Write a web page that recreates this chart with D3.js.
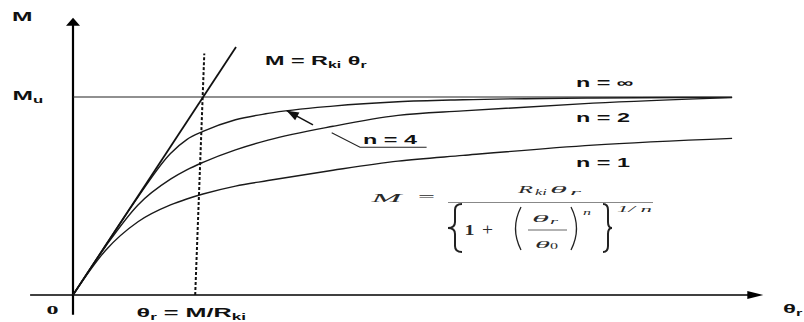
<!DOCTYPE html>
<html>
<head>
<meta charset="utf-8">
<script src="https://cdn.jsdelivr.net/npm/d3@7"></script>
<style>
  html, body { margin: 0; padding: 0; background: #fff; }
  svg { display: block; }
</style>
</head>
<body>
<div id="chart"></div>
<script>
// canvas
const width = 804,
  height = 322

// curve data (theta in units of theta0, M in units of Mu)
const theta = [0, 0.25, 0.5, 0.75, 0.875, 1, 1.25, 1.5, 2, 2.5, 3, 4, 5.07]
const mN4 = [0, 0.25, 0.495, 0.715, 0.785, 0.826, 0.885, 0.917, 0.954, 0.976, 0.986, 0.995, 0.998]
const mN2 = [0, 0.245, 0.455, 0.585, 0.632, 0.67, 0.733, 0.782, 0.852, 0.907, 0.93, 0.969, 0.997]
const mN1 = [0, 0.225, 0.37, 0.455, 0.485, 0.51, 0.55, 0.578, 0.63, 0.676, 0.705, 0.757, 0.791]

// straight elastic line M = Rki * theta
const elasticTheta = [0, 1.254]
const elasticM = [0, 1.253]
// ultimate moment line
const muTheta = [0, 5.07]
const muM = [1, 1]
// dashed line theta_r = M / Rki
const dashTheta = [0.94, 1.01]
const dashM = [0, 1.22]
// leader for the n = 4 label
const leaderTheta = [2.72, 2.208, 1.99]
const leaderM = [0.746, 0.746, 0.82]
const pointerTheta = [1.846, 1.644]
const pointerM = [0.859, 0.931]

// axis extents
const xAxisRange = [-0.33, 5.31]
const yAxisRange = [-0.1, 1.4]

let svg = d3.select('#chart')
  .append('svg')
  .attr('width', width)
  .attr('height', height)

const x = d3.scaleLinear().domain([0, 1]).range([73, 203])
const y = d3.scaleLinear().domain([0, 1]).range([295, 97])

const line = d3.line()
  .x(d => x(d[0]))
  .y(d => y(d[1]))

const smooth = d3.line()
  .x(d => x(d[0]))
  .y(d => y(d[1]))
  .curve(d3.curveMonotoneX)

const zip = (a, b) => a.map((v, i) => [v, b[i]])

// axes
svg.append('path')
  .attr('d', line([[xAxisRange[0], 0], [xAxisRange[1] - 0.1, 0]]))
  .attr('stroke', '#000').attr('stroke-width', 1.6).attr('fill', 'none')
svg.append('path')
  .attr('d', line([[0, yAxisRange[0]], [0, yAxisRange[1] - 0.03]]))
  .attr('stroke', '#000').attr('stroke-width', 2.2).attr('fill', 'none')

// arrow heads
let xt = x(xAxisRange[1]), yt = y(0)
svg.append('path')
  .attr('d', `M${xt},${yt} L${xt - 16},${yt - 4} L${xt - 16},${yt + 4} Z`)
  .attr('fill', '#000')
let ax = x(0), ay = y(yAxisRange[1])
svg.append('path')
  .attr('d', `M${ax},${ay} L${ax - 7},${ay + 8} L${ax + 7},${ay + 8} Z`)
  .attr('fill', '#000')

// Mu line
svg.append('path')
  .attr('d', line(zip(muTheta, muM)))
  .attr('stroke', '#222').attr('stroke-width', 1.1).attr('fill', 'none')

// curves
;[mN1, mN2, mN4].forEach(m => {
  svg.append('path')
    .attr('d', smooth(zip(theta, m)))
    .attr('stroke', '#1a1a1a').attr('stroke-width', 1.4).attr('fill', 'none')
})

// elastic line
svg.append('path')
  .attr('d', line(zip(elasticTheta, elasticM)))
  .attr('stroke', '#111').attr('stroke-width', 1.8).attr('fill', 'none')

// dashed line
svg.append('path')
  .attr('d', line(zip(dashTheta, dashM)))
  .attr('stroke', '#111').attr('stroke-width', 2).attr('stroke-dasharray', '3,2').attr('fill', 'none')

// leader + pointer
svg.append('path')
  .attr('d', line(zip(leaderTheta, leaderM)))
  .attr('stroke', '#222').attr('stroke-width', 1.1).attr('fill', 'none')
svg.append('path')
  .attr('d', line(zip(pointerTheta, pointerM)))
  .attr('stroke', '#111').attr('stroke-width', 1.6).attr('fill', 'none')
{
  let p0 = [x(pointerTheta[0]), y(pointerM[0])]
  let p1 = [x(pointerTheta[1]), y(pointerM[1])]
  let ang = Math.atan2(p1[1] - p0[1], p1[0] - p0[0])
  let L = 12, Wd = 4.5
  let bx = p1[0] - L * Math.cos(ang), by = p1[1] - L * Math.sin(ang)
  let nx = -Math.sin(ang), ny = Math.cos(ang)
  svg.append('path')
    .attr('d', `M${p1[0]},${p1[1]} L${bx + nx * Wd},${by + ny * Wd} L${bx - nx * Wd},${by - ny * Wd} Z`)
    .attr('fill', '#111')
}

// bold sans labels, stretched horizontally like the original
let label = (px, py, parts, sx, opts = {}) => {
  const g = svg.append('g').attr('transform', `translate(${px},${py}) scale(${sx},1)`)
  const t = g.append('text')
    .attr('font-family', opts.family || 'Liberation Sans, Arial, sans-serif')
    .attr('font-weight', 'bold')
    .attr('font-size', opts.size || 12)
    .attr('fill', '#111')
  let shifted = false
  parts.forEach(p => {
    const sub = typeof p !== 'string'
    const s = t.append('tspan').text(sub ? p[0] : p)
    if (sub) {
      s.attr('font-size', (opts.size || 12) * 0.68).attr('dy', shifted ? 0 : 3)
      shifted = true
    } else if (shifted) {
      s.attr('dy', -3)
      shifted = false
    }
  })
}

label(12, 21, ['M'], 2.05)
label(12.5, 99.5, ['M', ['u']], 2.05)
label(265, 64.5, ['M = R', ['ki'], ' θ', ['r']], 1.95)
label(576, 86.5, ['n = ∞'], 1.95)
label(576, 121.5, ['n = 2'], 1.95)
label(576, 166.5, ['n = 1'], 1.95)
label(363, 144, ['n = 4'], 1.95)
label(136.5, 316.5, ['θ', ['r'], ' = M/R', ['ki']], 2.1)
label(783, 313, ['θ', ['r']], 2.0)
label(46.5, 313.5, ['0'], 2.0, { family: 'Liberation Serif, Times New Roman, serif', size: 12 })

// formula (serif italic pieces)
let piece = (px, py, str, size, w, opts = {}) => {
  svg.append('text')
    .attr('x', px).attr('y', py)
    .attr('font-family', 'Liberation Serif, Times New Roman, serif')
    .attr('font-style', opts.upright ? 'normal' : 'italic')
    .attr('font-weight', opts.bold ? 'bold' : 'normal')
    .attr('font-size', size)
    .attr('textLength', w)
    .attr('lengthAdjust', 'spacingAndGlyphs')
    .attr('fill', '#2a2a2a')
    .text(str)
}
piece(371.5, 201.5, 'M', 12, 30)
piece(418, 201, '=', 12, 17, { upright: true })
svg.append('line').attr('x1', 448).attr('x2', 653).attr('y1', 202.5).attr('y2', 202.5)
  .attr('stroke', '#888').attr('stroke-width', 1)
piece(518, 193, 'R', 11, 15)
piece(535, 195, 'ki', 8, 12)
piece(550, 193, 'θ', 11, 17)
piece(570, 195, 'r', 8, 11)
piece(464.5, 235, '1', 15, 10, { upright: true, bold: true })
piece(482, 235, '+', 16, 11, { upright: true })
piece(532, 222, 'θ', 11, 17)
piece(550, 224, 'r', 8, 8)
svg.append('line').attr('x1', 528).attr('x2', 567).attr('y1', 230).attr('y2', 230)
  .attr('stroke', '#666').attr('stroke-width', 1)
piece(535, 247.5, 'θ', 11, 15)
piece(550, 249, '0', 8, 8, { upright: true })
piece(583, 215, 'n', 8, 8)
piece(617, 212, '1/ n', 8, 35)

// big brackets
const bracket = (d, w) => svg.append('path').attr('d', d).attr('fill', 'none')
  .attr('stroke', '#222').attr('stroke-width', w)
bracket('M462,204 Q455,204 455,210 L455,222 Q455,228 448,228 Q455,228 455,234 L455,246 Q455,252 462,252', 2)
bracket('M603,204 Q608,204 608,210 L608,222 Q608,228 612,228 Q608,228 608,234 L608,246 Q608,252 603,252', 2)
bracket('M521,207 Q510,228.5 521,250', 1.3)
bracket('M571,207 Q582,228.5 571,250', 1.3)
</script>
</body>
</html>
